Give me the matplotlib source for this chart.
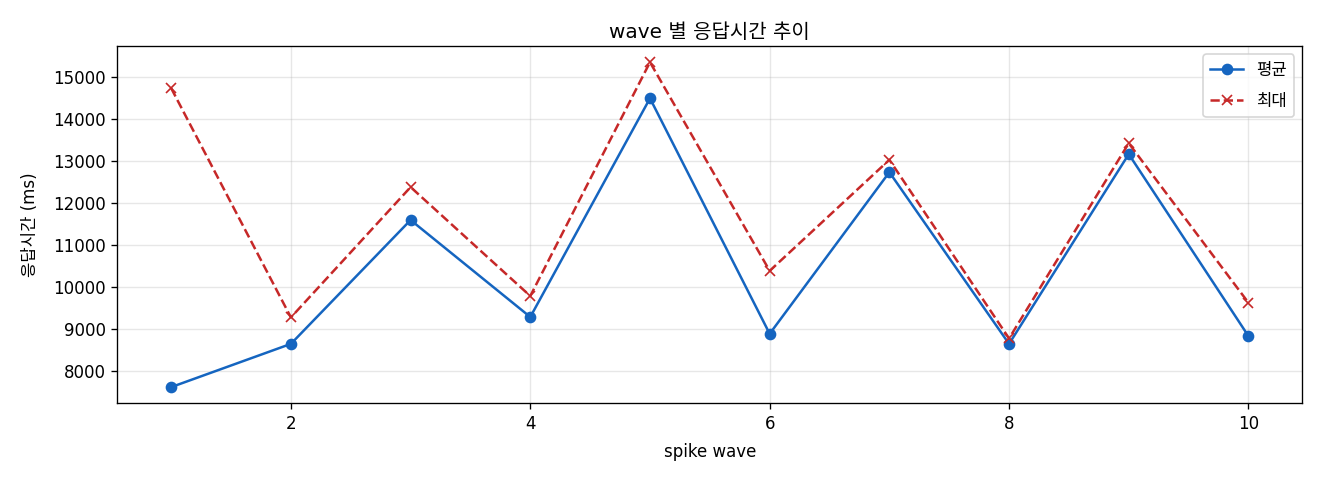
import numpy as np
import matplotlib.pyplot as plt

plt.rcParams['font.family'] = ['DejaVu Sans', 'Noto Sans CJK KR']

waves = [1, 2, 3, 4, 5, 6, 7, 8, 9, 10]
avg_ms = [7620, 8650, 11600, 9290, 14500, 8890, 12740, 8650, 13170, 8835]
max_ms = [14740, 9280, 12385, 9790, 15360, 10390, 13035, 8780, 13430, 9630]

fig, ax = plt.subplots(figsize=(11, 4), dpi=120)
ax.plot(waves, avg_ms, marker='o', color='#1565C0', label='평균')
ax.plot(waves, max_ms, marker='x', linestyle='--', color='#C62828', label='최대')
ax.set_title('wave 별 응답시간 추이', pad=5)
ax.set_xlabel('spike wave', labelpad=6)
ax.set_ylabel('응답시간 (ms)', labelpad=8.5)
ax.grid(True, alpha=0.3)
ax.legend(labelspacing=0.8)
fig.subplots_adjust(left=0.0889, right=0.9866, top=0.9042, bottom=0.1597)
plt.savefig('out.png')
